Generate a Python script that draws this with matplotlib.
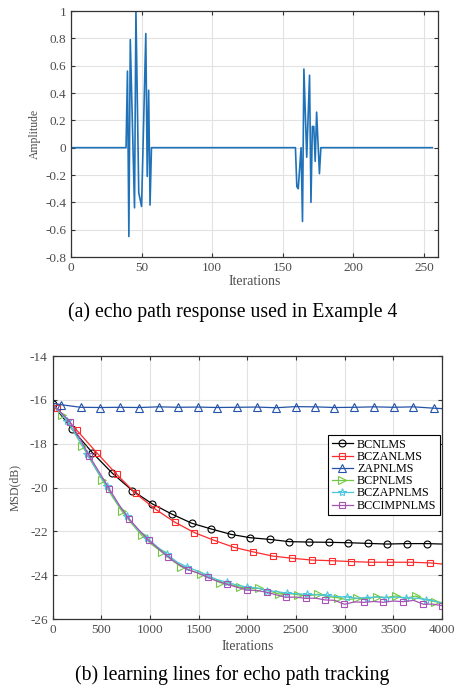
import numpy as np
import matplotlib
matplotlib.use('Agg')
import matplotlib.pyplot as plt

plt.rcParams['font.family'] = ['Liberation Serif', 'DejaVu Serif']
plt.rcParams['axes.unicode_minus'] = False

# ---------------- (a) echo path response ----------------
n_taps = 256
cluster1_idx = [40, 41, 42, 43, 44, 45, 46, 47, 48, 49, 50, 51, 52, 53, 54, 55, 56]
cluster1_val = [0.56, -0.65, 0.79, 0.38, -0.03, -0.44, 1.0, 0.33, -0.33, -0.38,
                -0.43, -0.01, 0.41, 0.835, -0.21, 0.42, -0.42]
cluster2_idx = [160, 161, 162, 163, 164, 165, 166, 167, 168, 169, 170, 171, 172,
                173, 174, 175, 176]
cluster2_val = [-0.285, -0.30, -0.15, 0.0, -0.54, 0.575, 0.25, -0.07, 0.23, 0.53,
                -0.40, 0.155, 0.155, -0.10, 0.26, 0.03, -0.19]

a_xticks = [0, 50, 100, 150, 200, 250]
a_yticks = [-0.8, -0.6, -0.4, -0.2, 0, 0.2, 0.4, 0.6, 0.8, 1]
a_ylabels = ['-0.8', '-0.6', '-0.4', '-0.2', '0', '0.2', '0.4', '0.6', '0.8', '1']

# ---------------- (b) learning curves ----------------
bcnlms_x = [0, 204, 409, 615, 820, 1026, 1224, 1430, 1628, 1834, 2029, 2235, 2430,
            2635, 2837, 3039, 3238, 3433, 3639, 3844, 4000]
bcnlms_y = [-16.2, -17.35, -18.41, -19.35, -20.14, -20.75, -21.21, -21.63, -21.89,
            -22.14, -22.29, -22.37, -22.47, -22.49, -22.50, -22.52, -22.55, -22.58,
            -22.56, -22.56, -22.58]

bczanlms_x = [0, 43, 248, 454, 659, 854, 1060, 1259, 1458, 1659, 1865, 2063, 2262,
              2464, 2663, 2868, 3067, 3269, 3468, 3673, 3872, 4000]
bczanlms_y = [-16.15, -16.39, -17.38, -18.41, -19.40, -20.27, -21.0, -21.59, -22.06,
              -22.41, -22.73, -22.94, -23.13, -23.23, -23.31, -23.34, -23.38, -23.41,
              -23.41, -23.41, -23.44, -23.49]

zapnlms_x = [0, 84, 289, 488, 693, 892, 1091, 1293, 1491, 1693, 1892, 2098, 2295,
             2497, 2695, 2894, 3101, 3303, 3502, 3707, 3913, 4000]
zapnlms_y = [-16.15, -16.22, -16.34, -16.35, -16.34, -16.35, -16.32, -16.34, -16.33,
             -16.35, -16.34, -16.33, -16.36, -16.31, -16.32, -16.35, -16.34, -16.32,
             -16.34, -16.32, -16.38, -16.40]

bcpnlms_x = [0, 101, 205, 307, 410, 512, 612, 711, 814, 916, 1020, 1122, 1220, 1320,
             1420, 1522, 1620, 1721, 1825, 1926, 2025, 2125, 2225, 2327, 2425, 2526,
             2625, 2724, 2825, 2930, 3025, 3125, 3230, 3330, 3430, 3529, 3630, 3731,
             3830, 3930, 4000]
bcpnlms_y = [-16.2, -16.69, -17.35, -18.11, -18.9, -19.66, -20.4, -21.07, -21.65,
             -22.18, -22.6, -22.94, -23.3, -23.61, -23.78, -23.96, -24.12, -24.34,
             -24.42, -24.55, -24.62, -24.6, -24.72, -24.86, -24.83, -24.90, -24.95,
             -24.87, -24.98, -25.03, -25.12, -25.06, -25.08, -24.98, -25.02, -24.95,
             -25.05, -24.95, -25.12, -25.21, -25.25]

bczapnlms_x = [0, 50, 150, 255, 355, 460, 560, 665, 765, 870, 970, 1075, 1175, 1280,
               1380, 1485, 1585, 1690, 1790, 1895, 1995, 2100, 2200, 2305, 2405, 2510,
               2610, 2715, 2815, 2920, 3020, 3125, 3225, 3330, 3430, 3535, 3635, 3740,
               3840, 3945, 4000]
bczapnlms_y = [-16.2, -16.45, -16.95, -17.7, -18.45, -19.25, -19.95, -20.7, -21.3,
               -21.9, -22.3, -22.7, -23.05, -23.4, -23.62, -23.8, -24.0, -24.2, -24.32,
               -24.45, -24.55, -24.58, -24.7, -24.75, -24.82, -24.85, -24.88, -24.9,
               -24.92, -24.98, -25.0, -25.05, -25.02, -25.0, -25.03, -25.0, -25.05,
               -25.05, -25.12, -25.2, -25.3]

bccimpnlms_x = [0, 80, 180, 280, 378, 480, 584, 685, 789, 890, 988, 1090, 1190, 1290,
                1395, 1495, 1594, 1695, 1796, 1895, 1995, 2100, 2200, 2300, 2395, 2500,
                2601, 2700, 2800, 2900, 2998, 3100, 3204, 3300, 3399, 3500, 3604, 3710,
                3810, 3900, 4000]
bccimpnlms_y = [-16.2, -16.55, -17.0, -17.75, -18.56, -19.3, -20.07, -20.8, -21.45,
                -21.95, -22.41, -22.8, -23.17, -23.5, -23.76, -23.9, -24.10, -24.28,
                -24.42, -24.55, -24.68, -24.7, -24.78, -24.9, -25.01, -25.0, -25.06,
                -25.05, -25.13, -25.15, -25.33, -25.22, -25.24, -25.2, -25.24, -25.18,
                -25.21, -25.15, -25.33, -25.32, -25.39]

b_xticks = [0, 500, 1000, 1500, 2000, 2500, 3000, 3500, 4000]
b_yticks = [-26, -24, -22, -20, -18, -16, -14]

series_names = ['BCNLMS', 'BCZANLMS', 'ZAPNLMS', 'BCPNLMS', 'BCZAPNLMS', 'BCCIMPNLMS']

caption_a = '(a) echo path response used in Example 4'
caption_b = '(b) learning lines for echo path tracking'

# ---------------- drawing ----------------
TICK_C = '#4d4d4d'
SPINE_C = '#333333'


def style(ax):
    ax.grid(True, color='#e2e2e2', lw=0.8)
    ax.set_axisbelow(True)
    for s in ax.spines.values():
        s.set_color(SPINE_C)
        s.set_linewidth(0.9)
    ax.tick_params(direction='in', top=True, right=True, length=3, width=0.8,
                   colors=SPINE_C, labelcolor=TICK_C, labelsize=9.5, pad=3.5)


fig = plt.figure(figsize=(4.57, 6.88), dpi=100)

# (a)
ax1 = fig.add_axes([71 / 457, 1 - 257 / 688, (438 - 71) / 457, (257 - 11) / 688])
h = np.zeros(n_taps)
h[np.array(cluster1_idx) - 1] = cluster1_val
h[np.array(cluster2_idx) - 1] = cluster2_val
taps = np.arange(1, n_taps + 1)
ax1.plot(taps, h, color='#1f72b8', lw=1.2)
ax1.set_xlim(0, 260)
ax1.set_ylim(-0.8, 1)
ax1.set_xticks(a_xticks)
ax1.set_yticks(a_yticks)
ax1.set_yticklabels(a_ylabels)
style(ax1)
ax1.set_xlabel('Iterations', fontsize=10, color=TICK_C)
ax1.xaxis.set_label_coords(0.5, -0.072)
ax1.set_ylabel('Amplitude', fontsize=8.5, color=TICK_C)
ax1.yaxis.label.set_va('center')
ax1.yaxis.set_label_coords((35 - 71) / 367, 0.5)

fig.text(233 / 457, 1 - 312 / 688, caption_a, ha='center', va='center', fontsize=14.2)

# (b)
ax2 = fig.add_axes([52.5 / 457, 1 - 619 / 688, (442 - 52.5) / 457, (619 - 356) / 688])
ms = 5
lw = 0.9
ax2.plot(bcnlms_x, bcnlms_y, color='black', lw=lw, marker='o', ms=ms,
         mfc='none', mew=0.8, markevery=list(range(0, len(bcnlms_x) - 1)),
         label=series_names[0])
ax2.plot(bczanlms_x, bczanlms_y, color='#ff2a2a', lw=lw, marker='s', ms=ms,
         mfc='none', mew=0.8, markevery=list(range(1, len(bczanlms_x) - 1)),
         label=series_names[1])
ax2.plot(zapnlms_x, zapnlms_y, color='#2452a8', lw=lw, marker='^', ms=ms + 0.8,
         mfc='none', mew=0.8, markevery=list(range(1, len(zapnlms_x) - 1)),
         label=series_names[2])
ax2.plot(bcpnlms_x, bcpnlms_y, color='#72c843', lw=lw, marker='>', ms=ms + 0.5,
         mfc='none', mew=0.8, markevery=list(range(1, len(bcpnlms_x) - 1, 2)),
         label=series_names[3])
ax2.plot(bczapnlms_x, bczapnlms_y, color='#4cc6dc', lw=lw, marker='*', ms=ms + 1,
         mfc='none', mew=0.8, markevery=list(range(2, len(bczapnlms_x) - 1, 2)),
         label=series_names[4])
ax2.plot(bccimpnlms_x, bccimpnlms_y, color='#a653b4', lw=lw, marker='s', ms=ms,
         mfc='none', mew=0.8, markevery=list(range(2, len(bccimpnlms_x), 2)),
         label=series_names[5])
ax2.set_xlim(0, 4000)
ax2.set_ylim(-26, -14)
ax2.set_xticks(b_xticks)
ax2.set_yticks(b_yticks)
style(ax2)
ax2.set_xlabel('Iterations', fontsize=10, color=TICK_C)
ax2.xaxis.set_label_coords(0.5, -0.08)
ax2.set_ylabel('MSD(dB)', fontsize=8.5, color=TICK_C)
ax2.yaxis.label.set_va('center')
ax2.yaxis.set_label_coords((15 - 52.5) / 389.5, 0.5)

leg = ax2.legend(loc='upper right', bbox_to_anchor=(0.995, 0.70), borderaxespad=0,
                 fontsize=8.7, numpoints=1, handlelength=1.8, handletextpad=0.3,
                 labelspacing=0.02, borderpad=0.3, fancybox=False, framealpha=1,
                 edgecolor='black')
leg.get_frame().set_linewidth(0.8)

fig.text(232.5 / 457, 1 - 675 / 688, caption_b, ha='center', va='center', fontsize=14.2)

fig.savefig('out.png', dpi=100)
